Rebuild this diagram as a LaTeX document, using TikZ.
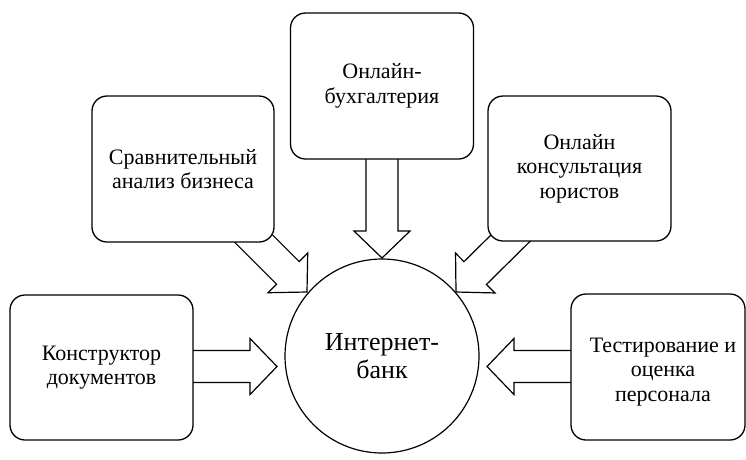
\documentclass[tikz,border=0pt]{standalone}
\usepackage{fontspec}
\setmainfont{Liberation Serif}
\usetikzlibrary{calc}
\tikzset{
  box/.style={draw, line width=1.3pt, rounded corners=15pt, fill=white, align=center,
    font=\fontsize{22}{24.5}\selectfont, inner sep=2pt},
  boxtext/.style={align=center, font=\fontsize{22}{24.5}\selectfont, inner sep=0pt},
  barrow/.style={draw, line width=1.2pt, fill=white, line join=miter},
  hub/.style={draw, circle, line width=1.2pt, fill=white, minimum size=194pt, align=center,
    font=\fontsize{26}{28}\selectfont, inner sep=0pt}
}
\newcommand\blockarrow[2]{%
  \coordinate (bneck) at ($(#2)!27pt!(#1)$);
  \draw[barrow] ($(#1)!16pt!90:(#2)$) -- ($(bneck)!16pt!90:(#2)$) -- ($(bneck)!28pt!90:(#2)$)
    -- (#2) -- ($(bneck)!28pt!-90:(#2)$) -- ($(bneck)!16pt!-90:(#2)$) -- ($(#1)!16pt!-90:(#2)$) -- cycle;
}
\begin{document}
\begin{tikzpicture}[x=1pt,y=-1pt]
\useasboundingbox (0,0) rectangle (746,459);
% arrow tails (hidden inside boxes) and tips
\coordinate (tL) at (150,366.5);  \coordinate (pL) at (277,366.5);
\coordinate (tR) at (620,366.5);  \coordinate (pR) at (487,366.5);
\coordinate (tT) at (382,100);    \coordinate (pT) at (382,258);
\coordinate (tDL) at (227,212);   \coordinate (pDL) at (307,292);
\coordinate (tDR) at (537,212);   \coordinate (pDR) at (456,292);
\blockarrow{tL}{pL}
\blockarrow{tR}{pR}
\blockarrow{tT}{pT}
\blockarrow{tDL}{pDL}
\blockarrow{tDR}{pDR}
% boxes
\node[box, minimum width=183pt, minimum height=145pt] (b1) at (101.5,367.5) {Конструктор\\документов};
\node[box, minimum width=182pt, minimum height=146pt] (b2) at (183,169) {Сравнительный\\анализ бизнеса};
\node[box, minimum width=183pt, minimum height=146pt] (b3) at (382,86) {Онлайн-\\бухгалтерия};
\node[box, minimum width=183pt, minimum height=145pt] (b4) at (579.5,168.5) {Онлайн\\консультация\\юристов};
\node[box, minimum width=174pt, minimum height=146pt] (b5) at (658,367) {};
\node[boxtext] (b5t) at (663,372) {Тестирование и\\оценка\\персонала};
% hub
\node[hub] (hub) at (382,356) {Интернет-\\банк};
\end{tikzpicture}
\end{document}
